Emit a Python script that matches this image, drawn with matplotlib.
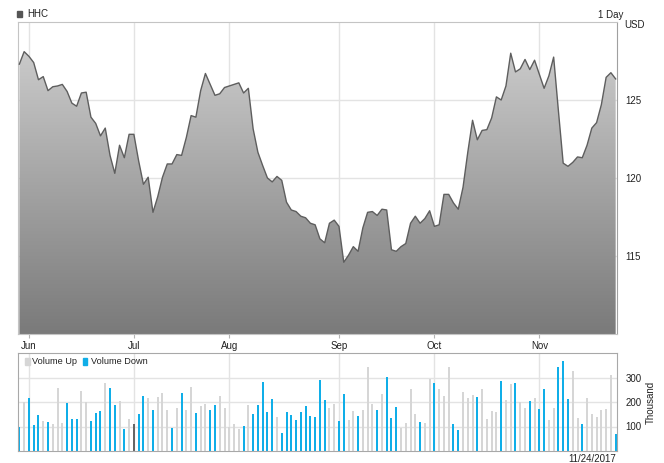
import numpy as np
import pandas as pd
import matplotlib
matplotlib.use("Agg")
import matplotlib.pyplot as plt
from matplotlib.patches import Rectangle
from matplotlib.colors import LinearSegmentedColormap

# ---------------------------------------------------------------------------
# Data
# ---------------------------------------------------------------------------
CLOSE = [
    127.3, 128.1, 127.8, 127.4, 126.3, 126.5, 125.6, 125.85, 125.9, 126.0,
    125.55, 124.8, 124.6, 125.45, 125.5, 123.9, 123.5, 122.7, 123.2, 121.45,
    120.3, 122.1, 121.3, 122.8, 122.8, 121.1, 119.6, 120.05, 117.8, 118.8,
    120.05, 120.9, 120.9, 121.5, 121.45, 122.6, 124.0, 123.9, 125.6, 126.7,
    126.0, 125.3, 125.4, 125.8, 125.9, 126.0, 126.1, 125.45, 125.75, 123.15,
    121.65, 120.8, 120.0, 119.75, 120.1, 119.85, 118.45, 117.95, 117.85, 117.55,
    117.45, 117.1, 117.0, 116.1, 115.85, 117.1, 117.3, 116.9, 114.6, 115.05,
    115.6, 115.3, 116.8, 117.8, 117.85, 117.6, 118.0, 117.95, 115.4, 115.3,
    115.6, 115.8, 117.1, 117.55, 117.1, 117.4, 117.9, 116.9, 117.0, 118.95,
    118.95, 118.4, 118.0, 119.4, 121.65, 123.7, 122.45, 123.05, 123.1, 123.85,
    125.2, 125.0, 125.9, 128.0, 126.8, 127.0, 127.6, 126.95, 127.55, 126.65,
    125.75, 126.55, 127.75, 124.3, 120.95, 120.75, 121.0, 121.35, 121.3, 122.1,
    123.2, 123.55, 124.7, 126.45, 126.75, 126.35,
]

# volume in thousands
VOLUME = [
    99, 198, 216, 107, 148, 121, 118, 110, 257, 114,
    194, 129, 129, 246, 199, 122, 156, 163, 276, 258,
    186, 205, 91, 132, 110, 152, 224, 216, 167, 220,
    235, 167, 95, 177, 235, 167, 262, 156, 185, 193,
    167, 186, 223, 174, 97, 110, 91, 102, 189, 152,
    189, 280, 159, 212, 140, 72, 159, 148, 126, 159,
    185, 143, 139, 290, 208, 175, 193, 121, 231, 125,
    163, 143, 166, 344, 193, 167, 231, 303, 136, 181,
    95, 114, 253, 152, 118, 114, 295, 277, 253, 224,
    341, 110, 86, 242, 216, 227, 220, 253, 129, 163,
    159, 284, 208, 273, 277, 199, 174, 205, 216, 171,
    253, 125, 177, 341, 367, 212, 326, 136, 110, 216,
    152, 140, 167, 171, 311, 68,
]

# u = volume up, d = volume down, f = unchanged (one letter per day)
DIRECTION = [
    "dudddudu uu",
    "dddu udddud",
    "dudufddudu",
    "uududuudu u",
    "dduuuuudud",
    "ddddudddd d",
    "ddddduudd u",
    "uduuudud dd",
    "uuuuduudu u",
    "uddu uudu uu",
    "udu udu udud",
    "duuddduudu",
    "uuuuud",
]

DATES = pd.bdate_range("2017-05-30", "2017-11-24")
DATES = DATES[~DATES.isin(pd.to_datetime(["2017-07-04", "2017-09-04", "2017-11-23"]))]

GRID = "#e3e3e3"
FRAME = "#b4b4b4"
TEXT = "#222222"
BLUE = "#10aee8"
UPGREY = "#d6d6d6"
FLAT = "#666666"

x = np.arange(len(CLOSE))
close = np.array(CLOSE)
volume = np.array(VOLUME)
dirs = list("".join(DIRECTION).replace(" ", ""))

month_idx = [i for i in range(1, len(DATES)) if DATES[i].month != DATES[i - 1].month]
month_lbl = [DATES[i].strftime("%b") for i in month_idx]

plt.rcParams["font.family"] = ["Liberation Sans", "DejaVu Sans"]

fig = plt.figure(figsize=(6.64, 4.63), dpi=100)
fig.set_facecolor("white")

xlim = (-0.29, len(x) - 1 + 0.28)

# ---------------------------------------------------------------------------
# Price panel
# ---------------------------------------------------------------------------
ax = fig.add_axes([18 / 664, 1 - 334 / 463, 599 / 664, 312 / 463])
ax.set_xlim(*xlim)
ax.set_ylim(110, 130)

# gradient fill clipped to the area under the line
grad = np.linspace(0, 1, 256).reshape(-1, 1)
img = ax.imshow(grad, cmap=LinearSegmentedColormap.from_list("g", ["#d2d2d2", "#7a7a7a"]),
                aspect="auto", extent=[xlim[0], xlim[1], 110, 130], zorder=1)
poly = ax.fill_between(x, close, 110, facecolor="none", edgecolor="none")
img.set_clip_path(poly.get_paths()[0], transform=ax.transData)
ax.plot(x, close, color="#5e5e5e", lw=1.0, zorder=3)

ax.set_xticks(month_idx)
ax.set_xticklabels(month_lbl)
ax.set_yticks([115, 120, 125])
ax.yaxis.tick_right()
ax.grid(True, color=GRID, lw=1.0, zorder=0)
ax.set_axisbelow(True)
ax.tick_params(axis="x", length=3, color=FRAME, labelsize=7, pad=2, labelcolor=TEXT)
ax.tick_params(axis="y", length=0, labelsize=7, pad=6, labelcolor=TEXT)
for s in ax.spines.values():
    s.set_color("#c4c4c4")
ax.spines["right"].set_color("#a0a0a0")

fig.text(624 / 664, 1 - 25 / 463, "USD", fontsize=7, color=TEXT, va="center", ha="left")
fig.text(623 / 664, 1 - 15 / 463, "1 Day", fontsize=7, color=TEXT, va="center", ha="right")
fig.add_artist(Rectangle((17 / 664, 1 - 17 / 463), 5 / 664, 6 / 463,
                         transform=fig.transFigure, color="#555555"))
fig.text(27 / 664, 1 - 14 / 463, "HHC", fontsize=7, color=TEXT, va="center", ha="left")

# ---------------------------------------------------------------------------
# Volume panel
# ---------------------------------------------------------------------------
vx = fig.add_axes([18 / 664, 1 - 451 / 463, 599 / 664, 98 / 463])
vx.set_xlim(*xlim)
vx.set_ylim(0, 400)
cmap = {"u": UPGREY, "d": BLUE, "f": FLAT}
vx.bar(x, volume, width=0.42, color=[cmap[d] for d in dirs], zorder=2)
vx.set_xticks(month_idx)
vx.set_xticklabels([])
vx.set_yticks([100, 200, 300])
vx.yaxis.tick_right()
vx.grid(True, color=GRID, lw=1.0, zorder=0)
vx.set_axisbelow(True)
vx.tick_params(axis="x", length=0)
vx.tick_params(axis="y", length=0, labelsize=7, pad=6, labelcolor=TEXT)
for s in vx.spines.values():
    s.set_color("#a8a8a8")
vx.text(1.057, 0.5, "Thousand", transform=vx.transAxes, rotation=90,
        fontsize=7, color=TEXT, va="center", ha="center")

# legend inside the volume panel
vx.add_patch(Rectangle((0.0117, 0.875), 0.0075, 0.07, transform=vx.transAxes,
                       color=UPGREY, zorder=5))
vx.text(0.0234, 0.91, "Volume Up", transform=vx.transAxes, fontsize=6.6,
        color=TEXT, va="center", zorder=5)
vx.add_patch(Rectangle((0.1085, 0.875), 0.0075, 0.07, transform=vx.transAxes,
                       color=BLUE, zorder=5))
vx.text(0.1225, 0.91, "Volume Down", transform=vx.transAxes, fontsize=6.6,
        color=TEXT, va="center", zorder=5)

fig.text(592 / 664, 1 - 459 / 463, DATES[-1].strftime("%m/%d/%Y"), fontsize=7,
         color=TEXT, va="center", ha="center")

fig.savefig("out.png", dpi=100, facecolor="white")
